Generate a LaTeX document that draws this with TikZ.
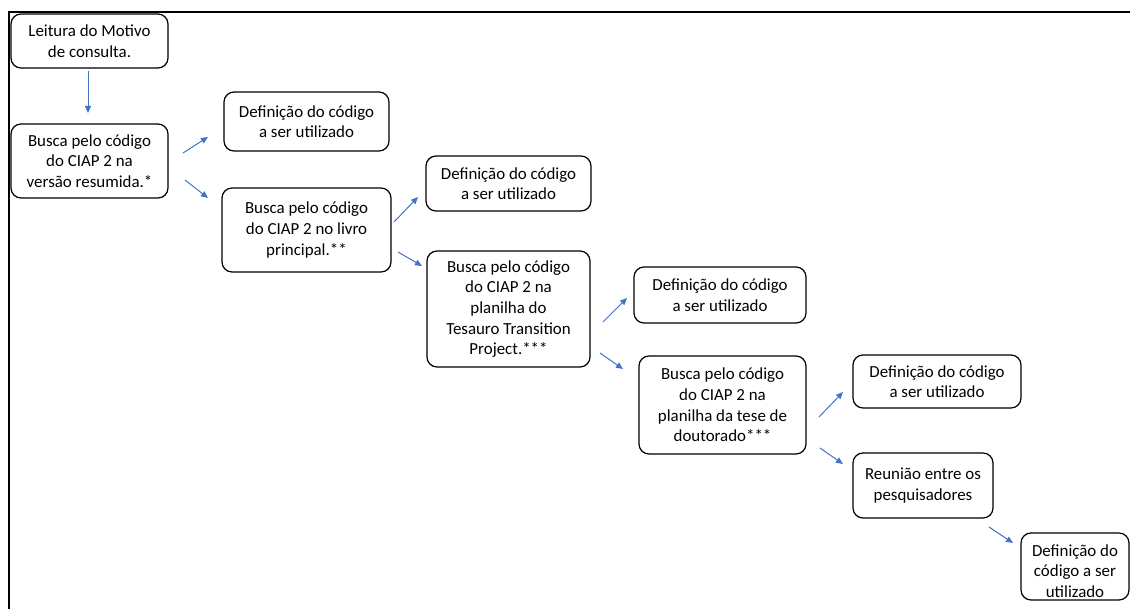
\documentclass[tikz,border=0pt]{standalone}
\usepackage{fontspec}
\setmainfont{Carlito}
\usetikzlibrary{arrows.meta}
\definecolor{arrowblue}{HTML}{4472C4}
\tikzset{
  box/.style={draw=black, line width=1.2pt, rounded corners=10pt, align=center,
    inner sep=2pt, font=\fontsize{16.9pt}{20.6pt}\selectfont},
  txt/.style={align=center, inner sep=0pt, font=\fontsize{16.9pt}{20.6pt}\selectfont},
  flow/.style={draw=arrowblue, line width=1pt, -{Triangle[length=7pt,width=6pt]}},
  frame/.style={draw=black, line width=2pt}
}
\begin{document}
\begin{tikzpicture}[x=1pt,y=-1pt]
\useasboundingbox (0,0) rectangle (1130,609);
% frame (top and left edges)
\coordinate (fbl) at (8.5,609);
\coordinate (ftl) at (8.5,12);
\coordinate (ftr) at (1130,12);
\draw[frame] (fbl) -- (ftl) -- (ftr);

% boxes
\node[box, minimum width=157pt, minimum height=54pt] (b1) at (89.5,41) {Leitura do Motivo\\de consulta.};
\node[box, minimum width=157pt, minimum height=74pt] (b2) at (89.5,161) {Busca pelo código\\do CIAP 2 na\\versão resumida.*};
\node[box, minimum width=165pt, minimum height=59pt] (b3) at (306.5,121.5) {Definição do código\\a ser utilizado};
\node[box, minimum width=169pt, minimum height=84pt] (b4) at (306.5,230) {Busca pelo código\\do CIAP 2 no livro\\principal.**};
\node[box, minimum width=165pt, minimum height=55pt] (b5) at (508.5,183.5) {Definição do código\\a ser utilizado};
\node[box, minimum width=163pt, minimum height=116pt] (b6) at (508.5,309) {Busca pelo código\\do CIAP 2 na\\planilha do\\Tesauro Transition\\Project.***};
\node[box, minimum width=172pt, minimum height=56pt] (b7) at (720,295) {Definição do código\\a ser utilizado};
\node[box, minimum width=167pt, minimum height=98pt] (b8) at (722.5,405) {Busca pelo código\\do CIAP 2 na\\planilha da tese de\\doutorado***};
\node[box, minimum width=168pt, minimum height=53pt] (b9) at (937,381.5) {Definição do código\\a ser utilizado};
\node[box, minimum width=140pt, minimum height=65pt] (b10) at (923,485.5) {Reunião entre os\\pesquisadores};
\node[box, minimum width=108pt, minimum height=67pt] (b11) at (1075,566.5) {};
\node[txt] (b11t) at (1075,571) {Definição do\\código a ser\\utilizado};

% connector end points
\coordinate (a1s) at (88,71);   \coordinate (a1e) at (88,113);
\coordinate (a2s) at (183,153); \coordinate (a2e) at (208,137);
\coordinate (a3s) at (185,180); \coordinate (a3e) at (208,198);
\coordinate (a4s) at (394,222); \coordinate (a4e) at (418,197);
\coordinate (a5s) at (398,252); \coordinate (a5e) at (422,266);
\coordinate (a6s) at (603,322); \coordinate (a6e) at (627,298);
\coordinate (a7s) at (600,353); \coordinate (a7e) at (623,369);
\coordinate (a8s) at (819,417); \coordinate (a8e) at (843,392);
\coordinate (a9s) at (820,448); \coordinate (a9e) at (843,464);
\coordinate (a10s) at (989,527); \coordinate (a10e) at (1013,543);

\draw[flow] (a1s) -- (a1e);
\draw[flow] (a2s) -- (a2e);
\draw[flow] (a3s) -- (a3e);
\draw[flow] (a4s) -- (a4e);
\draw[flow] (a5s) -- (a5e);
\draw[flow] (a6s) -- (a6e);
\draw[flow] (a7s) -- (a7e);
\draw[flow] (a8s) -- (a8e);
\draw[flow] (a9s) -- (a9e);
\draw[flow] (a10s) -- (a10e);
\end{tikzpicture}
\end{document}
